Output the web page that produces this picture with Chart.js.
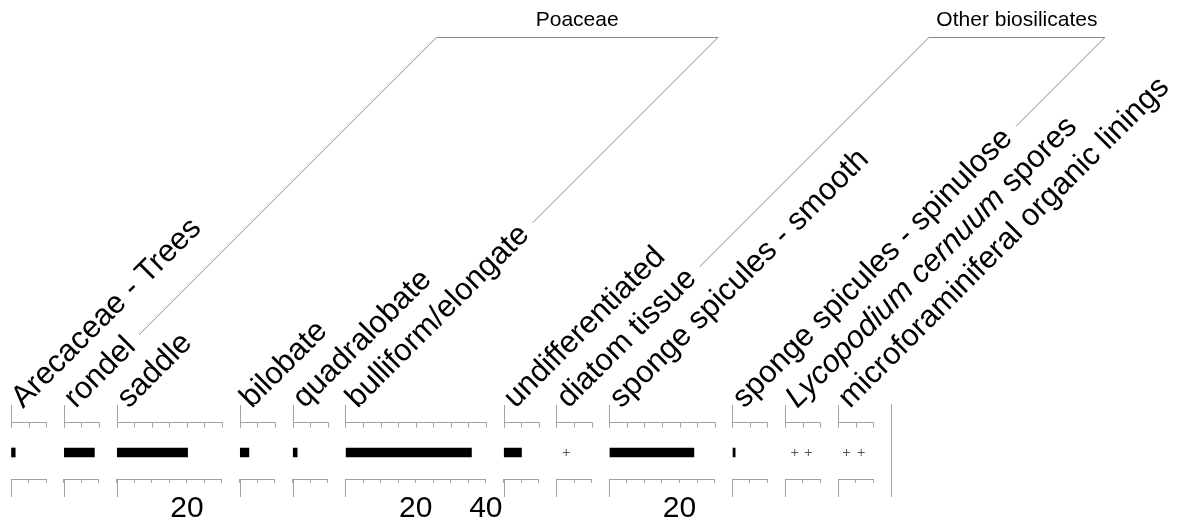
<!DOCTYPE html>
<html><head><meta charset="utf-8">
<script src="https://cdn.jsdelivr.net/npm/chart.js@4.4.1/dist/chart.umd.min.js"></script>
<style>
html,body{margin:0;padding:0;background:#fff;}
#wrap{position:relative;width:1178px;height:529px;overflow:hidden;background:#fff;}
#wrap canvas{position:absolute;left:0;top:0;}
</style></head><body><div id="wrap"></div>
<script>
// ---- data ----
const taxa = ['Arecaceae - Trees','rondel','saddle','bilobate','quadralobate','bulliform/elongate','undifferentiated','diatom tissue','sponge spicules - smooth','sponge spicules - spinulose','Lycopodium cernuum spores','microforaminiferal organic linings'];
const italicPart = ['', '', '', '', '', '', '', '', '', '', 'Lycopodium cernuum', ''];
const barValues = [1.2, 8.7, 20.2, 2.6, 1.3, 35.9, 5.1, null, 24.1, 0.8, null, null];
const rareValues = [[], [], [], [], [], [], [], [2.8], [], [], [2.7, 6.6], [2.4, 6.6]];
const axisMax = [10, 10, 30, 10, 10, 40, 10, 10, 30, 10, 10, 10];
const labeledTicks = [[], [], [20], [], [], [20, 40], [], [], [20], [], [], []];
const groupNames = ['Poaceae', 'Other biosilicates'];
const groupFirst = [1, 7];
const groupLast = [5, 9];

// ---- layout ----
const W = 1178, H = 529;
const X0 = 11, PX = 3.51, GAP = 17.75;
const FONT = '"Liberation Sans", Arial, Helvetica, sans-serif';
const LABEL_PX = 31;
const GRAY = '#a3a3a3';
const lefts = [];
{ let x = X0; axisMax.forEach(m => { lefts.push(x); x += m * PX + GAP; }); }

function segmentsOf(i) {
  const t = taxa[i], it = italicPart[i];
  if (it && t.startsWith(it)) return [{text: it, italic: true}, {text: t.slice(it.length), italic: false}];
  return [{text: t, italic: false}];
}
function labelWidth(ctx, i) {
  let w = 0;
  segmentsOf(i).forEach(s => { ctx.font = (s.italic ? 'italic ' : '') + LABEL_PX + 'px ' + FONT; w += ctx.measureText(s.text).width; });
  return w;
}
function labelOrigin(ca) { return {x: ca.left + 12, y: ca.top - 17}; }

const charts = [];
const wrap = document.getElementById('wrap');

function decoPlugin(i) {
  return {
    id: 'deco' + i,
    afterDraw(chart) {
      const ctx = chart.ctx, ca = chart.chartArea, xs = chart.scales.x;
      ctx.save();
      ctx.strokeStyle = GRAY; ctx.lineWidth = 1;
      const yTop = Math.round(ca.top - 4) + 0.5;
      const l = Math.round(ca.left) + 0.5, r = Math.round(ca.right) + 0.5;
      ctx.beginPath();
      ctx.moveTo(l, yTop); ctx.lineTo(r, yTop);
      xs.ticks.forEach(t => {
        const px = Math.round(xs.getPixelForValue(t.value)) + 0.5;
        ctx.moveTo(px, yTop); ctx.lineTo(px, yTop + 5);
      });
      ctx.moveTo(l, ca.top - 21); ctx.lineTo(l, yTop + 5);
      ctx.moveTo(l, ca.bottom); ctx.lineTo(l, ca.bottom + 18);
      ctx.stroke();
      // rotated taxon label
      const o = labelOrigin(ca);
      ctx.translate(o.x, o.y);
      ctx.rotate(-Math.PI / 4);
      ctx.fillStyle = '#000'; ctx.textAlign = 'left'; ctx.textBaseline = 'alphabetic';
      let x = 0;
      segmentsOf(i).forEach(s => {
        ctx.font = (s.italic ? 'italic ' : '') + LABEL_PX + 'px ' + FONT;
        ctx.fillText(s.text, x, 0);
        x += ctx.measureText(s.text).width;
      });
      ctx.restore();
    }
  };
}

const bracketPlugin = {
  id: 'brackets',
  afterDraw(chart) {
    const ctx = chart.ctx, ca = chart.chartArea;
    ctx.save();
    // closing vertical line at right of diagram
    ctx.strokeStyle = GRAY; ctx.lineWidth = 1;
    const vx = Math.round(ca.right + 17.5) + 0.5;
    ctx.beginPath(); ctx.moveTo(vx, ca.top - 22); ctx.lineTo(vx, ca.bottom + 18); ctx.stroke();
    // group brackets
    const yBar = 37.5, k = Math.SQRT1_2;
    ctx.strokeStyle = '#8a8a8a';
    groupNames.forEach((name, g) => {
      const ends = [groupFirst[g], groupLast[g]].map(i => {
        const o = labelOrigin(charts[i].chartArea);
        const d = labelWidth(ctx, i) + 11;
        const c = o.x + o.y - 11;
        return {lx: o.x + d * k - 5.5, ly: o.y - d * k - 5.5, tx: c - yBar};
      });
      ctx.beginPath();
      ctx.moveTo(ends[0].lx, ends[0].ly);
      ctx.lineTo(ends[0].tx, yBar);
      ctx.lineTo(ends[1].tx, yBar);
      ctx.lineTo(ends[1].lx, ends[1].ly);
      ctx.stroke();
      ctx.fillStyle = '#000'; ctx.font = '21px ' + FONT;
      ctx.textAlign = 'center'; ctx.textBaseline = 'alphabetic';
      ctx.fillText(name, (ends[0].tx + ends[1].tx) / 2, 26);
    });
    ctx.restore();
  }
};

taxa.forEach((name, i) => {
  const cv = document.createElement('canvas');
  cv.width = W; cv.height = H; cv.style.width = W + 'px'; cv.style.height = H + 'px';
  wrap.appendChild(cv);
  const left = lefts[i], right = left + axisMax[i] * PX;
  const isBar = barValues[i] !== null;
  const data = isBar
    ? {labels: [name], datasets: [{data: [barValues[i]], backgroundColor: '#000', borderWidth: 0, barThickness: 9}]}
    : {datasets: [{data: rareValues[i].map(v => ({x: v, y: 0.5})), pointStyle: 'cross', radius: 3.5, borderColor: '#555', borderWidth: 1}]};
  const plugins = [decoPlugin(i)];
  if (i === taxa.length - 1) plugins.push(bracketPlugin);
  const ch = new Chart(cv, {
    type: isBar ? 'bar' : 'scatter',
    data,
    options: {
      indexAxis: isBar ? 'y' : 'x',
      responsive: false, animation: false, events: [],
      layout: {padding: {left: left, right: W - right, top: 426, bottom: 0}},
      plugins: {legend: {display: false}, tooltip: {enabled: false}, title: {display: false}},
      scales: {
        x: {
          type: 'linear', min: 0, max: axisMax[i], position: 'bottom',
          afterFit: s => { s.height = 50; },
          grid: {drawOnChartArea: false, drawTicks: true, tickLength: 4, color: GRAY, lineWidth: 1},
          border: {display: true, color: GRAY, width: 1},
          ticks: {
            stepSize: 5, autoSkip: false, maxRotation: 0, minRotation: 0, padding: 8, color: '#000',
            font: {family: FONT, size: 30, lineHeight: 1.2},
            callback: v => labeledTicks[i].includes(v) ? String(v) : ''
          }
        },
        y: isBar ? {type: 'category', display: false} : {type: 'linear', min: 0, max: 1, display: false}
      }
    },
    plugins
  });
  charts.push(ch);
});
</script>
</body></html>
